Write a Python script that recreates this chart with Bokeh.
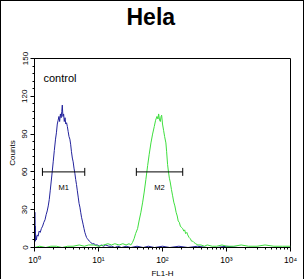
import math
from bokeh.plotting import figure
from bokeh.models import FixedTicker, Label, Range1d, ColumnDataSource, Title
from bokeh.core.properties import value
from bokeh.embed import file_html
from bokeh.resources import INLINE

# ---- data ----
title = "Hela"
x_label = "FL1-H"
y_label = "Counts"
control_text = "control"

blue_x = [1.0, 1.003, 1.007, 1.012, 1.018, 1.025, 1.035, 1.05, 1.07, 1.10, 1.14, 1.18, 1.23, 1.28,
          1.34, 1.40, 1.46, 1.52, 1.58, 1.64, 1.70, 1.76, 1.82, 1.89, 1.96, 2.04, 2.13, 2.20, 2.27,
          2.34, 2.41, 2.47, 2.54, 2.61, 2.67, 2.72, 2.78, 2.85, 2.92, 3.00, 3.08, 3.17, 3.26, 3.36,
          3.46, 3.57, 3.67, 3.78, 3.90, 4.02, 4.14, 4.27, 4.40, 4.53, 4.67, 4.82, 4.97, 5.12, 5.27,
          5.43, 5.60, 5.77, 5.94, 6.12, 6.30, 6.50, 6.70, 6.95, 7.2, 7.55, 8.0, 8.5, 9.0, 9.6, 10.3,
          11, 12, 13, 14.5, 16, 18, 20, 23, 27, 32, 40, 50, 60, 75, 100, 130, 180, 250, 350, 500,
          700, 1000, 1500, 2500, 4000, 6000, 10000]
blue_counts = [0, 22, 5, 28, 8, 17, 5, 9, 6, 10, 9, 13, 12, 15,
               17, 20, 22, 26, 29, 33, 38, 45, 52, 60, 68, 77, 86, 91, 98,
               101, 104, 100, 106, 103, 108, 113, 104, 106, 100, 103, 98, 99, 96, 92,
               88, 86, 82, 76, 71, 68, 63, 59, 54, 50, 45, 40, 35, 32, 28,
               24, 21, 18, 15, 12, 10, 8, 7, 6, 5, 4, 3, 3, 2, 2, 1,
               2, 1, 2, 1, 1, 0, 1, 0, 1, 0, 1, 0, 1, 0, 1, 0, 1, 0, 1, 0,
               0, 1, 0, 0, 0, 0, 0]

green_x = [1.0, 1.2, 1.5, 1.8, 2.2, 2.7, 3.3, 4, 5, 6, 7, 8.5, 10, 12, 14, 16, 18, 21, 24, 27, 30,
           32, 34, 36, 38, 40.8, 43, 46, 49, 51.8, 55, 58.6, 62, 66, 70, 74.4, 78, 82, 85, 87, 90,
           92.5, 95, 97, 100, 104, 108, 113, 116, 120, 124, 128, 132, 138, 144, 150, 156, 163, 170,
           176, 183, 190, 197, 207, 215, 222, 230, 240, 248, 260, 272, 285, 297, 310, 330, 357, 400,
           450, 500, 600, 700, 850, 1000, 1300, 1700, 2200, 3000, 4000, 5500, 7500, 10000]
green_counts = [0, 1, 0, 1, 1, 0, 1, 1, 2, 1, 2, 2, 1, 2, 3, 2, 3, 2, 3, 2, 3,
                2, 4, 7, 11, 15, 21, 28, 36, 44, 54, 65, 74, 83, 90, 96, 101, 104, 102, 106, 101,
                100, 104, 105, 98, 93, 88, 83, 76, 66, 60, 55, 52, 46, 41, 36, 33, 28, 25,
                21, 20, 17, 16, 15, 13, 14, 11, 12, 10, 8, 7, 5, 5, 4, 3, 2, 2,
                1, 2, 1, 1, 2, 1, 1, 2, 1, 1, 2, 1, 1, 1]

marker_names = ["M1", "M2"]
marker_lo = [1.33, 39.0]
marker_hi = [6.1, 207.0]
marker_level = [60, 60]

x_tick_values = [1, 10, 100, 1000, 10000]
x_tick_labels = ["10\u2070", "10\u00b9", "10\u00b2", "10\u00b3", "10\u2074"]
y_tick_values = [0, 30, 60, 90, 120, 150]

BLUE = "#23239c"
GREEN = "#3ede3e"
FONT = "Liberation Sans"

p = figure(width=304, height=279, x_axis_type="log", title=None,
           x_range=Range1d(1, 10000), y_range=Range1d(0, 150),
           output_backend="svg", toolbar_location=None,
           min_border_left=33, min_border_right=15, min_border_top=57, min_border_bottom=31)
p.styles = {"border-top": "1px solid black", "border-left": "1px solid black",
            "border-right": "1px solid black"}

# spacer title (closest to the frame), then the visible title above it
p.add_layout(Title(text=" ", text_font_size="10px", standoff=16), "above")
p.add_layout(Title(text=title, align="left", offset=92, standoff=0, vertical_align="bottom",
                   text_font=FONT, text_font_size="23px", text_font_style="bold",
                   text_color="black"), "above")

p.grid.visible = False
p.outline_line_color = "black"
p.outline_line_width = 1

for ax in (p.xaxis, p.yaxis):
    ax.axis_line_color = "black"
    ax.major_tick_line_color = "black"
    ax.minor_tick_line_color = "black"
    ax.major_label_text_color = "black"
    ax.axis_label_text_color = "black"
    ax.axis_label_text_font_style = "normal"
    ax.axis_label_text_font = FONT
    ax.major_label_text_font = FONT
    ax.major_tick_out = 4
    ax.major_tick_in = 0
    ax.minor_tick_out = 2
    ax.minor_tick_in = 0

# x axis
minor = [m * d for d in [1, 10, 100, 1000] for m in range(2, 10)]
p.xaxis.ticker = FixedTicker(ticks=x_tick_values, minor_ticks=minor)
p.xaxis.major_label_overrides = {v: s for v, s in zip(x_tick_values, x_tick_labels)}
p.xaxis.axis_label = x_label
p.xaxis.axis_label_text_font_size = "8px"
p.xaxis.axis_label_standoff = 1
p.xaxis.major_label_text_font_size = "8.5px"
p.xaxis.major_label_standoff = 3

# y axis
p.yaxis.ticker = FixedTicker(ticks=y_tick_values, minor_ticks=list(range(0, 151, 6)))
p.yaxis.major_label_orientation = "vertical"
p.yaxis.axis_label = y_label
p.yaxis.axis_label_text_font_size = "8px"
p.yaxis.axis_label_standoff = 3
p.yaxis.major_label_text_font_size = "8px"
p.yaxis.major_label_standoff = 3

p.line(blue_x, blue_counts, line_color=BLUE, line_width=1)
p.line(green_x, green_counts, line_color=GREEN, line_width=1)

# markers
msrc = ColumnDataSource(dict(
    lo=marker_lo, hi=marker_hi, y=marker_level, name=marker_names,
    mid=[math.sqrt(a * b) for a, b in zip(marker_lo, marker_hi)]))
p.segment(x0="lo", y0="y", x1="hi", y1="y", source=msrc, line_color="black", line_width=1)
p.scatter(x="lo", y="y", source=msrc, marker="dash", angle=math.pi / 2, size=8,
          line_color="black", line_width=1)
p.scatter(x="hi", y="y", source=msrc, marker="dash", angle=math.pi / 2, size=8,
          line_color="black", line_width=1)
p.text(x="mid", y="y", text="name", source=msrc, text_align="center", text_baseline="top",
       y_offset=11, text_font=value(FONT), text_font_size="7.5px", text_color="black")

p.add_layout(Label(x=1.38, y=134.5, text=control_text, text_baseline="middle",
                   text_font=FONT, text_font_size="11px", text_color="black"))

open("out.html", "w").write(file_html(p, INLINE))
